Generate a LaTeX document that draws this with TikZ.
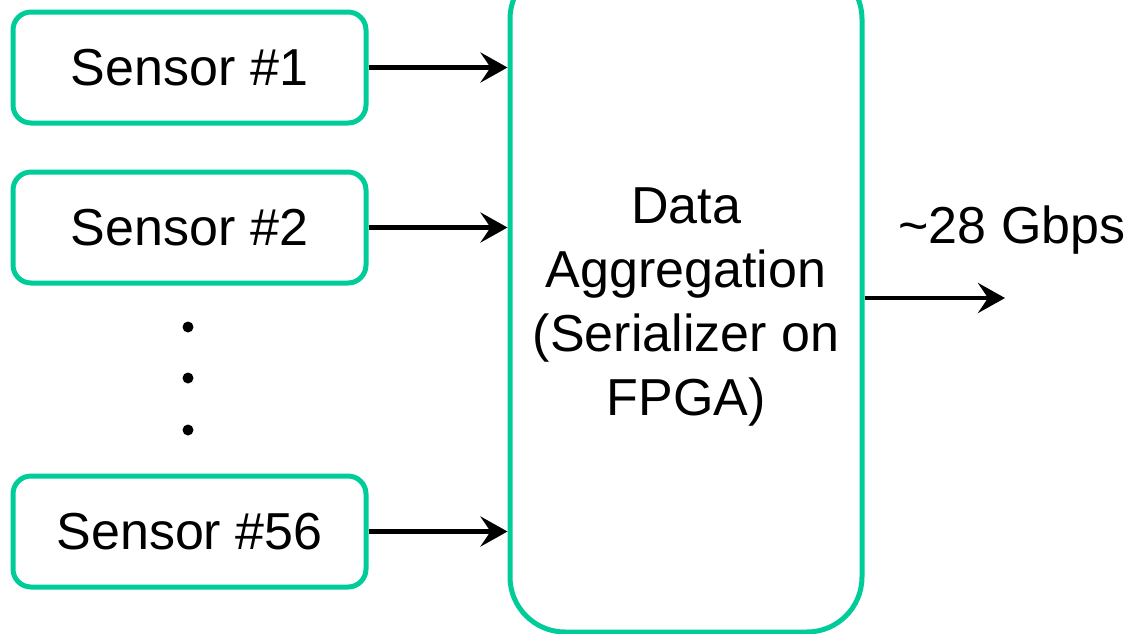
\documentclass[tikz,border=0pt]{standalone}
\usepackage{fontspec}
\setmainfont{Liberation Sans}
\usetikzlibrary{arrows.meta}
\definecolor{boxgreen}{RGB}{0,204,153}
\tikzset{
  sensorbox/.style={draw=boxgreen, line width=5pt, rounded corners=18pt,
    minimum width=353pt, minimum height=111pt, inner sep=0pt,
    font=\fontsize{52}{64}\selectfont},
  aggbox/.style={draw=boxgreen, line width=5pt, rounded corners=55pt,
    minimum width=352pt, minimum height=668pt, inner sep=0pt},
  bigtext/.style={font=\fontsize{52}{64}\selectfont, align=center, inner sep=0pt},
  link/.style={line width=4.6pt, -{Stealth[length=27pt,width=30pt,inset=10pt]}},
  dotmark/.style={circle, fill=black, minimum size=11pt, inner sep=0pt}
}
\begin{document}
\begin{tikzpicture}[x=1pt, y=-1pt]
  \useasboundingbox (0,0) rectangle (1134,633);

  % sensor inputs
  \node[sensorbox] (s1)  at (189.5,67.5)  {Sensor \#1};
  \node[sensorbox] (s2)  at (189.5,227.5) {Sensor \#2};
  \node[sensorbox] (s56) at (189.5,531.5) {Sensor \#56};

  % vertical ellipsis between sensor #2 and sensor #56
  \node[dotmark] (d1) at (188,327) {};
  \node[dotmark] (d2) at (188,378) {};
  \node[dotmark] (d3) at (188,430) {};

  % aggregation block
  \node[aggbox] (agg) at (686,298) {};
  \node[bigtext] (aggtext) at (686,307) {Data\\Aggregation\\(Serializer on\\FPGA)};

  % links into the serializer
  \draw[link] (s1.east)  -- (agg.west |- s1.east);
  \draw[link] (s2.east)  -- (agg.west |- s2.east);
  \draw[link] (s56.east) -- (agg.west |- s56.east);

  % output link
  \coordinate (out) at (1005,298);
  \draw[link] (agg.east) -- (out);
  \node[bigtext] (rate) at (1012,230) {\textasciitilde 28 Gbps};
\end{tikzpicture}
\end{document}
